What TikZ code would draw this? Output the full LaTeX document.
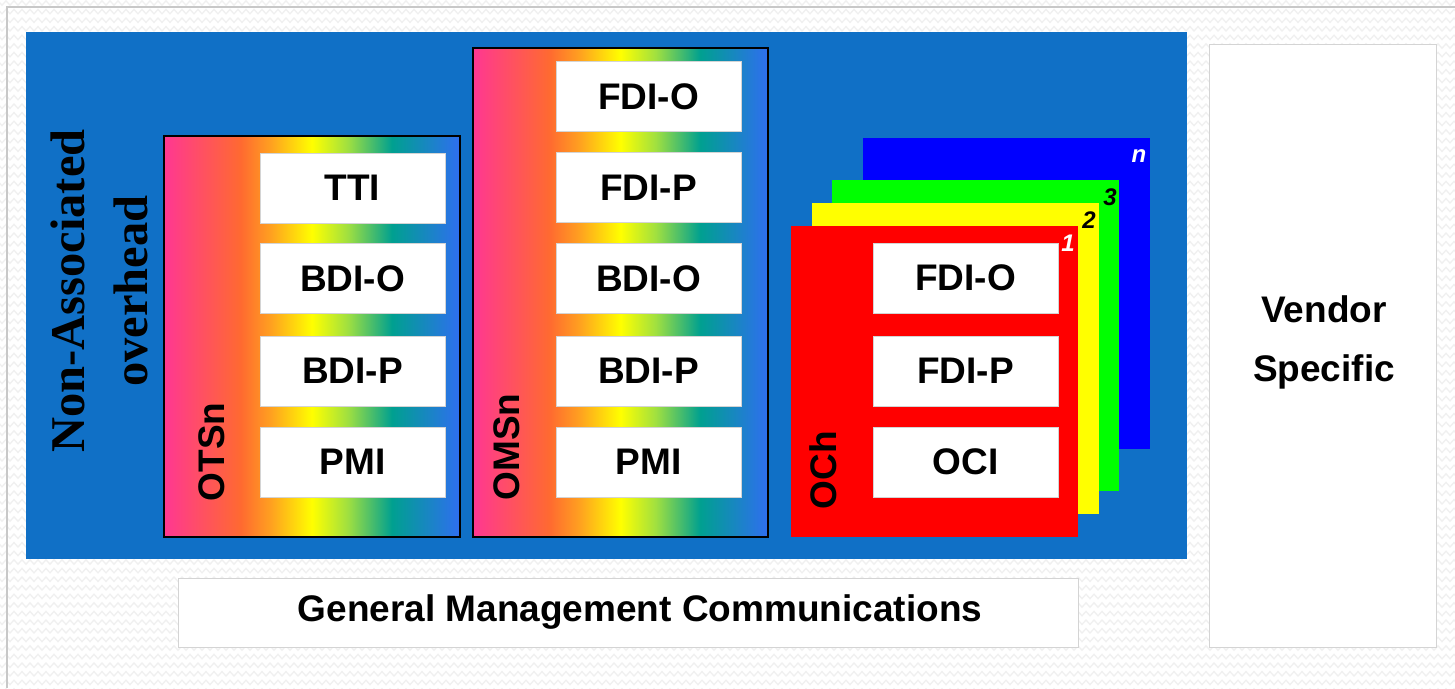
\documentclass[tikz,border=0pt]{standalone}
\usepackage{fontspec}
\setmainfont{Liberation Sans}
\newfontfamily\timesfont{Liberation Serif}
\usetikzlibrary{decorations.pathmorphing}

\definecolor{bgblue}{HTML}{1070C6}
\definecolor{zigline}{HTML}{F0F0F0}
\definecolor{framegray}{HTML}{C8C8C8}
\definecolor{boxedge}{HTML}{D4D4D4}
\definecolor{rbpink}{HTML}{FF3792}
\definecolor{rborange}{HTML}{FF6A30}
\definecolor{rbamber}{HTML}{FFA020}
\definecolor{rbyellow}{HTML}{FFFF00}
\definecolor{rblime}{HTML}{A0E040}
\definecolor{rbteal}{HTML}{00A090}
\definecolor{rbblue}{HTML}{2F6EF0}

% left-to-right rainbow used inside the OTSn / OMSn frames
\pgfdeclarehorizontalshading{rainbow}{100bp}{%
  color(0bp)=(rbpink); color(25bp)=(rbpink);
  color(38bp)=(rborange); color(43bp)=(rbamber);
  color(50bp)=(rbyellow); color(56bp)=(rblime);
  color(63.5bp)=(rbteal); color(75bp)=(rbblue); color(100bp)=(rbblue)}

\tikzset{
  lbl/.style={font=\fontsize{37}{44}\bfseries\selectfont},
  field/.style={lbl, draw=boxedge, line width=0.8pt, fill=white,
    minimum width=185, minimum height=70, inner sep=0pt},
  layer/.style={draw=black, line width=1.8pt, shading=rainbow,
    inner sep=0pt},
  sheet/.style={inner sep=0pt, minimum width=287, minimum height=311},
  vlbl/.style={lbl, rotate=90},
  idx/.style={font=\fontsize{24}{26}\bfseries\itshape\selectfont, inner sep=0pt},
  plainbox/.style={draw=boxedge, line width=0.8pt, fill=white, inner sep=0pt},
  zig/.style={draw=zigline, line width=1.3pt, decorate,
    decoration={zigzag, segment length=8, amplitude=2.2}}
}

\begin{document}
\begin{tikzpicture}[x=1pt, y=-1pt]
\useasboundingbox (0,0) rectangle (1455,688);

% paper background with faint zigzag texture
\fill[white] (0,0) rectangle (1455,688);
\begin{scope}
  \clip (0,0) rectangle (1455,688);
  \foreach \r in {0,...,80} {
    \path[zig] (-4,{3+\r*8.6}) -- (1460,{3+\r*8.6});
  }
\end{scope}
\draw[framegray, line width=1.5pt] (7,688) -- (7,7) -- (1455,7);

% main overhead area
\node[fill=bgblue, inner sep=0pt, minimum width=1161, minimum height=527]
  (area) at (606.5,295.5) {};

% vendor specific and general management communications
\node[plainbox, minimum width=227, minimum height=603] (vendor) at (1322.5,345.5) {};
\node[lbl, align=center, font=\fontsize{37}{59}\bfseries\selectfont]
  (vendortxt) at (1324,342) {Vendor\\Specific};
\node[plainbox, minimum width=900, minimum height=69] (gmc) at (628,612.5) {};
\node[lbl, font=\fontsize{37}{44}\bfseries\selectfont] (gmctxt) at (640,612)
  {General Management Communications};

% non-associated overhead caption
\node[rotate=90, align=center,
  font=\timesfont\fontsize{48.5}{63}\bfseries\selectfont]
  (nao) at (99,291) {Non-Associated\\overhead};

% OTSn layer
\node[layer, minimum width=296, minimum height=401] (otsn) at (312,336.5) {};
\node[field] (otstti) at (352.5,188) {TTI};
\node[field] (otsbdio) at (352.5,278.5) {BDI-O};
\node[field] (otsbdip) at (352.5,371) {BDI-P};
\node[field] (otspmi) at (352.5,462) {PMI};
\node[vlbl] (otslbl) at (212,452) {OTSn};

% OMSn layer
\node[layer, minimum width=295, minimum height=489] (omsn) at (620.5,292.5) {};
\node[field] (omsfdio) at (648.5,96.5) {FDI-O};
\node[field] (omsfdip) at (648.5,187.5) {FDI-P};
\node[field] (omsbdio) at (648.5,278.5) {BDI-O};
\node[field] (omsbdip) at (648.5,371) {BDI-P};
\node[field] (omspmi) at (648.5,462) {PMI};
\node[vlbl] (omslbl) at (507,447) {OMSn};

% stack of OCh sheets, back to front
\node[sheet, fill={rgb,255:red,0;green,0;blue,255}] (sheetn) at (1006.5,293.5) {};
\node[sheet, fill={rgb,255:red,0;green,255;blue,0}] (sheet3) at (975.5,335) {};
\node[sheet, fill={rgb,255:red,255;green,255;blue,0}] (sheet2) at (955.5,358.5) {};
\node[sheet, fill={rgb,255:red,255;green,0;blue,0}] (sheet1) at (934.5,381.5) {};
\node[idx, white] (idxn) at (1139,156) {n};
\node[idx] (idx3) at (1110,197) {3};
\node[idx] (idx2) at (1089,220) {2};
\node[idx, white] (idx1) at (1068,243) {1};
\node[field] (ochfdio) at (965.5,278) {FDI-O};
\node[field] (ochfdip) at (965.5,371) {FDI-P};
\node[field] (ochoci) at (965.5,462) {OCI};
\node[vlbl] (ochlbl) at (823,470) {OCh};
\end{tikzpicture}
\end{document}
